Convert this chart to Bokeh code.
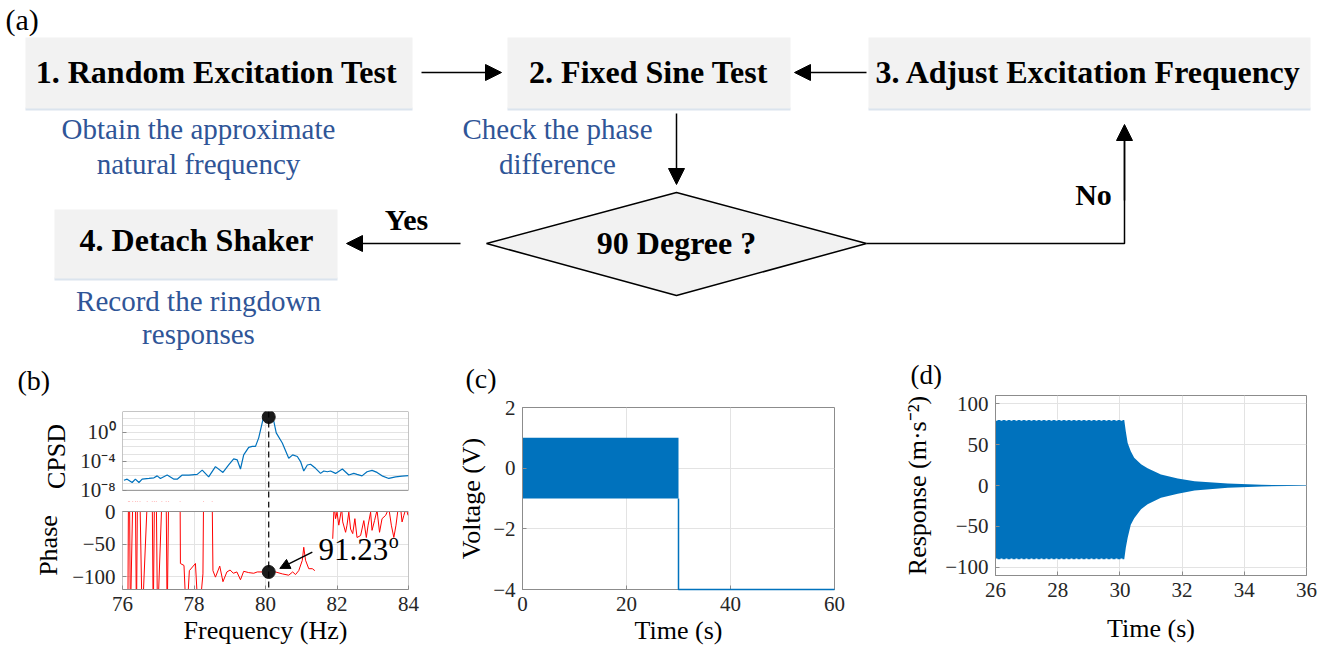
from bokeh.plotting import figure
from bokeh.layouts import column, row
from bokeh.models import (Range1d, FixedTicker, Span, Arrow, NormalHead,
                          CustomJSTickFormatter)
from bokeh.core.properties import value
from bokeh.embed import file_html
from bokeh.resources import INLINE

SERIF = "Liberation Serif"
NAN = float("nan")

# ---------------- (a) flowchart content ----------------
box_labels = ["1. Random Excitation Test", "2. Fixed Sine Test",
              "3. Adjust Excitation Frequency", "4. Detach Shaker"]
note_lines = ["Obtain the approximate", "natural frequency", "Check the phase",
              "difference", "Record the ringdown", "responses"]
decision_label = "90 Degree ?"
branch_labels = ["Yes", "No"]
panel_labels = ["(a)", "(b)", "(c)", "(d)"]

# ---------------- (b) CPSD / phase ----------------
cpsd_f = [76.04, 76.13, 76.27, 76.36, 76.46, 76.55, 76.74, 76.88, 76.97, 77.06,
          77.25, 77.44, 77.53, 77.67, 77.86, 78.09, 78.23, 78.41, 78.60, 78.81,
          78.97, 79.11, 79.21, 79.30, 79.39, 79.53, 79.63, 79.72, 79.81, 79.93,
          80.09, 80.23, 80.30, 80.47, 80.65, 80.76, 80.89, 80.98, 81.07, 81.17,
          81.26, 81.40, 81.54, 81.63, 81.73, 81.82, 81.96, 82.15, 82.33, 82.47,
          82.56, 82.70, 82.84, 82.98, 83.12, 83.26, 83.45, 83.64, 83.82, 84.00]
cpsd_val = [2.5e-7, 3.5e-7, 1.2e-7, 3.5e-7, 1.2e-7, 3.5e-7, 4.4e-7, 5.4e-7, 1.0e-6, 4.4e-7,
            1.3e-6, 3.5e-7, 3.5e-7, 1.3e-6, 1.3e-6, 1.6e-6, 6.3e-6, 7.4e-7, 1.9e-5, 3.0e-6,
            3.2e-5, 2.2e-4, 1.6e-4, 8.9e-6, 8.1e-4, 8.7e-3, 1.2e-2, 1.2e-2, 0.18, 66.0,
            141.0, 39.0, 0.89, 0.035, 2.8e-4, 8.1e-4, 4.8e-4, 9.5e-5, 4.7e-6, 3.2e-5,
            4.0e-5, 1.1e-5, 2.2e-6, 4.7e-6, 3.7e-6, 4.7e-6, 2.2e-6, 8.9e-6, 1.3e-6, 2.2e-6,
            1.6e-6, 1.0e-6, 3.7e-6, 5.8e-6, 3.0e-6, 1.0e-6, 4.4e-7, 7.4e-7, 9.1e-7, 1.1e-6]

phase_f = [76.00, 76.15, 76.18, 76.22, 76.34, 76.39, 76.44, 76.55, 76.81, 76.86,
           76.92, 76.98, 77.20, 77.25, 77.32, 77.50, 77.60, 77.62, 77.72, 77.79,
           77.87, 78.04, 78.13, 78.25, 78.29, 78.48, 78.53, 78.60, 78.72, 78.81,
           78.92, 79.01, 79.10, 79.20, 79.30, 79.39, 79.53, 79.67, 79.77, 79.91,
           80.00, 80.09, 80.28, 80.47, 80.65, 80.76, 80.84, 80.93, 81.03, 81.07,
           81.12, 81.21, 81.31, 81.38, 81.60,
           81.88, 81.92, 81.96, 82.00, 82.05, 82.13, 82.16, 82.24, 82.28, 82.33,
           82.38, 82.44, 82.50, 82.56, 82.66, 82.75, 82.82, 82.87, 82.94, 82.98,
           83.05, 83.12, 83.19, 83.26, 83.36, 83.45, 83.52, 83.59, 83.65, 83.71,
           83.77, 83.82, 83.87, 83.93, 83.99]
phase_val = [-150, -160, 170, -170, 170, -170, 170, -170, 170, -170,
             170, -170, 170, -170, 170, 160, 150, -80, -83, -170,
             -91, -80, -170, -96, 170, 170, -91, -101, -84, -108,
             -93, -90, -95, -93, -105, -92, -94, -95, -93, -93,
             -93, -92, -93, -96, -98, -93, -97, -91, -75, -55,
             -75, -88, -88, -91, NAN,
             -42, 10, -11, -1, -21, 5, -16, -32, -21, -1,
             -27, -34, -11, -40, -37, -14, -40, -21, -1, -29,
             -14, 2, -32, -11, -6, 5, -21, -40, -21, 5,
             10, -16, -6, 5, -6]

peak_f = [80.09]
peak_cpsd = [141.0]
peak_phase = [-93.0]
peak_label = "91.23"

# axis limits of panel (b)
f_lim = (76, 84)
cpsd_lim = (1e-8, 10 ** 2.9)
phase_lim = (-120, 0)

# ---------------- (c) excitation voltage ----------------
volt_on_t = [0, 30]
volt_on_lo = [-1, -1]
volt_on_hi = [1, 1]
volt_off_t = [30, 30, 60]
volt_off_v = [-1, -4, -4]

# ---------------- (d) response envelope ----------------
resp_t = [26.0, 30.14, 30.19, 30.25, 30.35, 30.46, 30.68, 30.89, 31.32, 31.86,
          32.40, 33.47, 34.55, 36.0]
resp_hi = [80, 80, 66, 52, 42, 34, 26, 21, 13.5, 8.6, 5.3, 2.4, 0.8, 0.3]
resp_lo = [-90, -90, -76, -64, -48, -40, -29, -23, -15, -10, -6, -2.9, -1.2, -0.3]

BLUE = "#0072BD"
GRID = "#e3e3e3"
BOXC = "#8c8c8c"
TICKC = "#262626"


def canvas(w, h):
    """Blank figure whose data units are pixels (y downward)."""
    f = figure(width=w, height=h, x_range=Range1d(0, w), y_range=Range1d(h, 0),
               output_backend="svg", toolbar_location=None, min_border=0)
    f.axis.visible = False
    f.grid.visible = False
    f.outline_line_color = None
    return f


# ======================= flowchart figure =======================
flow = canvas(1322, 360)
bx_l = [25, 507, 868, 54]
bx_r = [412, 790, 1310, 337]
bx_t = [37, 37, 37, 209]
bx_b = [108, 108, 108, 278]
flow.quad(left=bx_l, right=bx_r, top=[b - 1 for b in bx_b], bottom=[b + 2 for b in bx_b],
          fill_color="#dbe4ee", line_color=None)
flow.quad(left=bx_l, right=bx_r, top=bx_t, bottom=bx_b, fill_color="#f2f2f2", line_color=None)
flow.text(x=[216, 648, 1088, 196], y=[71, 71, 71, 239], text=box_labels,
          text_font=value(SERIF), text_font_style="bold", text_font_size="32px",
          text_align="center", text_baseline="alphabetic", text_color="black")
flow.text(x=[198, 198, 557, 557, 198, 198], y=[128, 163, 128, 163, 300, 333], text=note_lines,
          text_font=value(SERIF), text_font_size="29px", text_align="center",
          text_baseline="alphabetic", text_color="#2f5597")
flow.patch(x=[486, 676, 866, 676], y=[243, 192, 243, 295], fill_color="#f2f2f2",
           line_color="black", line_width=1.5)
flow.text(x=[676], y=[242], text=[decision_label], text_font=value(SERIF),
          text_font_style="bold", text_font_size="32px", text_align="center",
          text_baseline="alphabetic")
flow.text(x=[406, 1093], y=[219, 194], text=branch_labels, text_font=value(SERIF),
          text_font_style="bold", text_font_size="30px", text_align="center",
          text_baseline="alphabetic")
flow.line(x=[866, 1124, 1124], y=[243, 243, 140], line_color="black", line_width=1.5)
for (x0, y0, x1, y1) in [(421, 72, 501, 72), (866, 72, 794, 72), (676, 113, 676, 184),
                         (460, 243, 346, 243), (1124, 200, 1124, 124)]:
    flow.add_layout(Arrow(x_start=x0, y_start=y0, x_end=x1, y_end=y1, line_width=1.5,
                          end=NormalHead(size=16, fill_color="black", line_color="black")))
flow.text(x=[5], y=[19], text=[panel_labels[0]], text_font=value(SERIF),
          text_font_size="30px", text_baseline="alphabetic")

# panel-label strips above the lower panels
strip_b = canvas(440, 38)
strip_b.text(x=[17], y=[20], text=[panel_labels[1]], text_font=value(SERIF),
             text_font_size="28px", text_baseline="alphabetic")
strip_c = canvas(460, 34)
strip_c.text(x=[25], y=[18], text=[panel_labels[2]], text_font=value(SERIF),
             text_font_size="28px", text_baseline="alphabetic")
strip_d = canvas(422, 29)
strip_d.text(x=[10], y=[14], text=[panel_labels[3]], text_font=value(SERIF),
             text_font_size="27px", text_baseline="alphabetic")


def style(p, xlab=None, ylab=None, ylab_standoff=5):
    p.outline_line_color = BOXC
    p.outline_line_width = 1
    p.background_fill_color = "white"
    p.border_fill_color = "white"
    for ax in [p.xaxis[0], p.yaxis[0]]:
        ax.axis_line_color = BOXC
        ax.major_tick_line_color = BOXC
        ax.minor_tick_line_color = None
        ax.major_tick_in = 4
        ax.major_tick_out = 0
        ax.major_label_text_font = SERIF
        ax.major_label_text_font_size = "21px"
        ax.major_label_text_color = TICKC
        ax.major_label_standoff = 7
        ax.axis_label_text_font = SERIF
        ax.axis_label_text_font_size = "26px"
        ax.axis_label_text_font_style = "normal"
        ax.axis_label_text_color = "black"
    if xlab:
        p.xaxis.axis_label = xlab
        p.xaxis.axis_label_standoff = 2
    if ylab:
        p.yaxis.axis_label = ylab
        p.yaxis.axis_label_standoff = ylab_standoff
    p.grid.grid_line_color = GRID


# ======================= (b) top: CPSD =======================
# the frame reaches half-way into the gap so that the dashed marker stays continuous
b1 = figure(frame_width=286, frame_height=90, x_range=Range1d(*f_lim),
            y_range=Range1d(10 ** -9.544, cpsd_lim[1]), y_axis_type="log",
            output_backend="svg", toolbar_location=None, min_border_left=122,
            min_border_right=32, min_border_top=13, min_border_bottom=0)
style(b1, ylab="CPSD", ylab_standoff=6)
b1.outline_line_color = None
b1.yaxis.axis_line_color = None
b1.xaxis.visible = False
b1.xgrid.ticker = FixedTicker(ticks=[78, 80, 82])
b1.yaxis.ticker = FixedTicker(ticks=[1e-8, 1e-4, 1.0])
b1.ygrid.ticker = FixedTicker(ticks=[10.0 ** k for k in range(-8, 3)])
b1.yaxis.formatter = CustomJSTickFormatter(code="""
const m = {'0':'\u2070','1':'\u00b9','2':'\u00b2','3':'\u00b3','4':'\u2074','5':'\u2075',
           '6':'\u2076','7':'\u2077','8':'\u2078','9':'\u2079','-':'\u207b'};
const e = Math.round(Math.log10(tick));
return '10' + String(e).split('').map(c => m[c]).join('');
""")
b1.line(cpsd_f, cpsd_val, line_color=BLUE, line_width=1.2)
b1.quad(left=[f_lim[0] - 1], right=[f_lim[1] + 1], top=[cpsd_lim[0]], bottom=[1e-14],
        fill_color="white", line_color=None)
b1.quad(left=[f_lim[0]], right=[f_lim[1]], bottom=[cpsd_lim[0]], top=[cpsd_lim[1]],
        fill_color=None, line_color=BOXC, line_width=1)
b1.add_layout(Span(location=peak_f[0], dimension="height", line_dash="6 4",
                   line_color="black", line_width=1.2))
b1.scatter(peak_f, peak_cpsd, size=13, color="#1a1a1a")

# ======================= (b) bottom: phase =======================
b2 = figure(frame_width=286, frame_height=88, x_range=Range1d(*f_lim),
            y_range=Range1d(phase_lim[0], 15.4), output_backend="svg",
            toolbar_location=None, min_border_left=122, min_border_right=32,
            min_border_top=0, min_border_bottom=63)
style(b2, xlab="Frequency (Hz)", ylab="Phase", ylab_standoff=6)
b2.outline_line_color = None
b2.yaxis.axis_line_color = None
b2.xaxis.ticker = FixedTicker(ticks=[76, 78, 80, 82, 84])
b2.yaxis.ticker = FixedTicker(ticks=[-100, -50, 0])
b2.line(phase_f, phase_val, line_color="#ff0000", line_width=1)
b2.quad(left=[f_lim[0] - 1], right=[f_lim[1] + 1], bottom=[phase_lim[1]], top=[80],
        fill_color="white", line_color=None)
b2.quad(left=[f_lim[0]], right=[f_lim[1]], bottom=[phase_lim[0]], top=[phase_lim[1]],
        fill_color=None, line_color=BOXC, line_width=1)
b2.add_layout(Span(location=peak_f[0], dimension="height", line_dash="6 4",
                   line_color="black", line_width=1.2))
b2.scatter(peak_f, peak_phase, size=13, color="#1a1a1a")
b2.add_layout(Arrow(x_start=81.31, y_start=-62.6, x_end=80.40, y_end=-87.5, line_width=1.5,
                    end=NormalHead(size=10, fill_color="black", line_color="black")))
b2.text(x=[81.48], y=[-58.5], text=[peak_label], text_font=value(SERIF),
        text_font_size="31px", text_baseline="alphabetic")
b2.text(x=[83.45], y=[-46], text=["o"], text_font=value(SERIF),
        text_font_size="20px", text_baseline="alphabetic")

# ======================= (c) voltage =======================
pc = figure(frame_width=312, frame_height=182, x_range=Range1d(0, 60), y_range=Range1d(-4, 2),
            output_backend="svg", toolbar_location=None, min_border_left=82,
            min_border_right=66, min_border_top=13, min_border_bottom=63)
style(pc, xlab="Time (s)", ylab="Voltage (V)", ylab_standoff=4)
pc.xaxis.ticker = FixedTicker(ticks=[0, 20, 40, 60])
pc.yaxis.ticker = FixedTicker(ticks=[-4, -2, 0, 2])
pc.varea(x=volt_on_t, y1=volt_on_lo, y2=volt_on_hi, fill_color=BLUE)
pc.line(volt_off_t, volt_off_v, line_color=BLUE, line_width=1.5, level="overlay")

# ======================= (d) response =======================
pd_ = figure(frame_width=311, frame_height=180, x_range=Range1d(26, 36),
             y_range=Range1d(-110, 110), output_backend="svg", toolbar_location=None,
             min_border_left=81, min_border_right=30, min_border_top=6,
             min_border_bottom=77)
style(pd_, xlab="Time (s)", ylab="Response (m\u00b7s\u207b\u00b2)", ylab_standoff=10)
pd_.xaxis.ticker = FixedTicker(ticks=[26, 28, 30, 32, 34, 36])
pd_.yaxis.ticker = FixedTicker(ticks=[-100, -50, 0, 50, 100])
pd_.xaxis.axis_label_standoff = 14
pd_.varea(x=resp_t, y1=resp_lo, y2=resp_hi, fill_color=BLUE)
pd_.line(resp_t[0:2], resp_hi[0:2], line_color="white", line_dash="2 3", line_width=1.5)
pd_.line(resp_t[0:2], resp_lo[0:2], line_color="white", line_dash="2 3", line_width=1.5)

layout = column(flow, row(column(row(strip_b), b1, b2),
                          column(row(strip_c), column(pc)),
                          column(row(strip_d), column(pd_))))
open("out.html", "w").write(file_html(layout, INLINE))
